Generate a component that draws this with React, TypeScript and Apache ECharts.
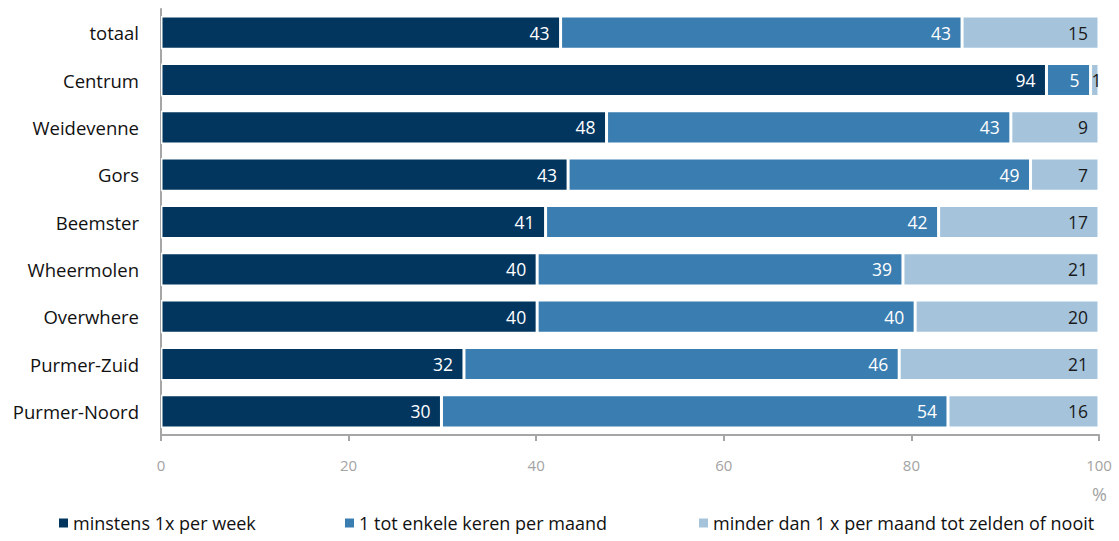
import React, { useEffect, useRef } from "react";
import * as echarts from "echarts";

const categories = ["totaal", "Centrum", "Weidevenne", "Gors", "Beemster", "Wheermolen", "Overwhere", "Purmer-Zuid", "Purmer-Noord"];
const seriesNames = ["minstens 1x per week", "1 tot enkele keren per maand", "minder dan 1 x per maand tot zelden of nooit"];
const weekly = [42.6, 94.4, 47.5, 43.4, 41.0, 40.1, 40.1, 32.3, 29.9];
const monthly = [42.8, 4.7, 43.1, 49.3, 41.9, 39.0, 40.3, 46.4, 54.0];
const rarely = [14.6, 0.9, 9.4, 7.3, 17.1, 20.9, 19.6, 21.3, 16.1];
const colors = ["#03365F", "#3A7DB0", "#A5C4DC"];
const labelColors = ["#ffffff", "#ffffff", "#1a1a1a"];
const xTicks = [0, 20, 40, 60, 80, 100];

const FONT = "Open Sans";

export default function App() {
  const ref = useRef<HTMLDivElement>(null);
  useEffect(() => {
    const chart = echarts.init(ref.current!, null, { renderer: "svg" });
    const data = [weekly, monthly, rarely];
    const legendLeft = [57, 343, 697];
    chart.setOption({
      animation: false,
      textStyle: { fontFamily: FONT },
      grid: { left: 161, right: 20, top: 9, height: 426, containLabel: false },
      xAxis: {
        type: "value",
        min: xTicks[0],
        max: xTicks[xTicks.length - 1],
        interval: 20,
        axisLine: { show: true, lineStyle: { color: "#a6a6a6", width: 2 } },
        axisTick: { show: true, length: 6, lineStyle: { color: "#a6a6a6", width: 2 } },
        axisLabel: { color: "#a3a3a3", fontSize: 15, margin: 22, fontFamily: FONT },
        splitLine: { show: false },
      },
      yAxis: {
        type: "category",
        data: categories,
        inverse: true,
        axisLine: { show: true, lineStyle: { color: "#a6a6a6", width: 2 } },
        axisTick: { show: false },
        axisLabel: { color: "#111", fontSize: 18.5, margin: 22, fontFamily: FONT },
      },
      legend: seriesNames.map((n, i) => ({
        data: [n],
        left: legendLeft[i],
        top: 514,
        itemWidth: 11,
        itemHeight: 11,
        itemGap: 6,
        padding: 0,
        icon: "rect",
        textStyle: { fontSize: 18, color: "#111", fontFamily: FONT, padding: [0, 0, 0, -1] },
      })),
      graphic: [
        {
          type: "text",
          left: 1092,
          top: 485,
          style: { text: "%", fill: "#a3a3a3", fontSize: 18, fontFamily: FONT },
        },
      ],
      series: seriesNames.map((n, i) => ({
        name: n,
        type: "bar",
        stack: "total",
        barCategoryGap: "30%",
        data: data[i].map((v) =>
          v < 3 ? { value: v, label: { position: "insideLeft", distance: 1 } } : v
        ),
        itemStyle: { color: colors[i], borderColor: "#ffffff", borderWidth: 1.5 },
        label: {
          show: true,
          position: "insideRight",
          distance: 11,
          color: labelColors[i],
          fontSize: 17.5,
          fontFamily: FONT,
          formatter: (p: any) => String(Math.round(p.value)),
        },
      })),
    });
    return () => chart.dispose();
  }, []);
  return <div ref={ref} style={{ width: 1119, height: 541, position: "absolute", left: 0, top: 0 }} />;
}
